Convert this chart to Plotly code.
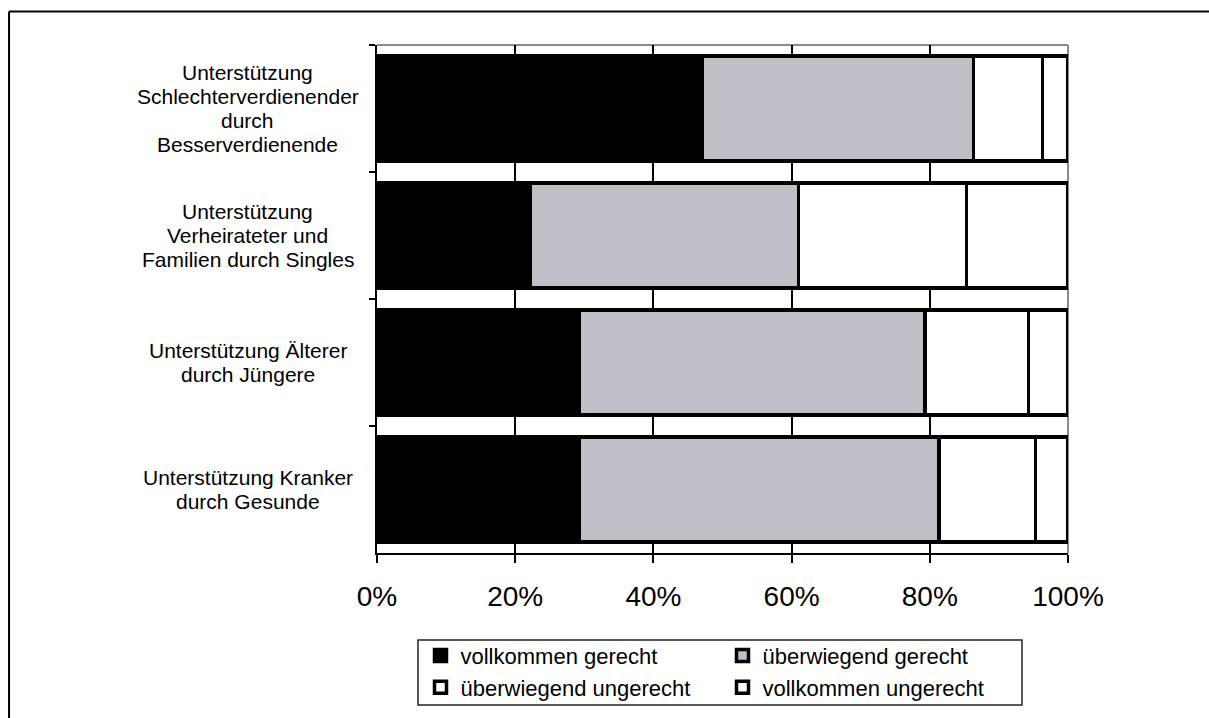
import plotly.graph_objects as go

categories = [
    "Unterstützung<br>Schlechterverdienender<br>durch<br>Besserverdienende",
    "Unterstützung<br>Verheirateter und<br>Familien durch Singles",
    "Unterstützung Älterer<br>durch Jüngere",
    "Unterstützung Kranker<br>durch Gesunde",
]
series_names = [
    "vollkommen gerecht",
    "überwiegend gerecht",
    "überwiegend ungerecht",
    "vollkommen ungerecht",
]
vollkommen_gerecht = [47.0, 22.2, 29.3, 29.3]
ueberwiegend_gerecht = [39.3, 38.8, 50.0, 52.0]
ueberwiegend_ungerecht = [10.0, 24.3, 15.0, 14.0]
vollkommen_ungerecht = [3.7, 14.7, 5.7, 4.7]
series_values = [vollkommen_gerecht, ueberwiegend_gerecht,
                 ueberwiegend_ungerecht, vollkommen_ungerecht]
series_colors = ["#000000", "#C0BFC7", "#FFFFFF", "#FFFFFF"]
tick_values = [0, 20, 40, 60, 80, 100]
tick_labels = ["0%", "20%", "40%", "60%", "80%", "100%"]

FONT = "Liberation Sans, Arial, sans-serif"

fig = go.Figure()
for name, vals, col in zip(series_names, series_values, series_colors):
    fig.add_trace(go.Bar(
        y=categories, x=vals, name=name, orientation="h",
        marker=dict(color=col, line=dict(color="#000000", width=3.5)),
    ))

# category labels, centred, one annotation per line
line_step = 24.3
for cat in categories:
    lines = cat.split("<br>")
    n = len(lines)
    for i, ln in enumerate(lines):
        fig.add_annotation(
            xref="paper", yref="y", x=-0.187, y=cat, text=ln,
            showarrow=False, xanchor="center", yanchor="middle",
            yshift=((n - 1) / 2 - i) * line_step,
            font=dict(family=FONT, size=21, color="#000000"),
        )

# outer frame (only top and left edges are inside the picture)
fig.add_shape(type="line", xref="paper", yref="paper",
              x0=-0.5325, x1=1.5, y0=1.066, y1=1.066,
              line=dict(color="#000000", width=2), layer="below")
fig.add_shape(type="line", xref="paper", yref="paper",
              x0=-0.5325, x1=-0.5325, y0=-0.6, y1=1.066,
              line=dict(color="#000000", width=2), layer="below")
# grey top / right border of plot area
fig.add_shape(type="line", xref="paper", yref="paper", x0=0, x1=1, y0=1, y1=1,
              line=dict(color="#8A8A8A", width=2), layer="below")
fig.add_shape(type="line", xref="paper", yref="paper", x0=1, x1=1, y0=0, y1=1,
              line=dict(color="#8A8A8A", width=2), layer="below")
# legend frame
fig.add_shape(type="rect", xref="paper", yref="paper",
              x0=0.0593, x1=0.9334, y0=-0.2992, y1=-0.1713,
              line=dict(color="#222222", width=1.5), fillcolor="rgba(0,0,0,0)",
              layer="above")

fig.update_layout(
    width=1209, height=718,
    margin=dict(l=377, r=141, t=45, b=165, autoexpand=False),
    paper_bgcolor="#FFFFFF", plot_bgcolor="#FFFFFF",
    barmode="stack", barnorm="percent", bargap=0.17,
    showlegend=True,
    legend=dict(
        orientation="h", x=0.5, xanchor="center", y=-0.161, yanchor="top",
        traceorder="normal", entrywidth=257, entrywidthmode="pixels",
        borderwidth=0, bgcolor="rgba(0,0,0,0)",
        font=dict(family=FONT, size=22, color="#000000"),
        itemclick=False, itemdoubleclick=False,
    ),
    font=dict(family=FONT, color="#000000"),
    xaxis=dict(
        range=[0, 100], tickvals=tick_values, ticktext=tick_labels,
        showgrid=True, gridcolor="#000000", gridwidth=1.5,
        zeroline=False, showline=True, linecolor="#000000", linewidth=2,
        ticks="outside", ticklen=8, tickwidth=1.5, tickcolor="#000000",
        tickfont=dict(family=FONT, size=28, color="#000000"),
        ticklabelstandoff=9, fixedrange=True, automargin=False,
    ),
    yaxis=dict(
        type="category", autorange="reversed", tickson="boundaries",
        showticklabels=False, showgrid=False, zeroline=False,
        showline=True, linecolor="#000000", linewidth=2,
        ticks="outside", ticklen=6, tickwidth=1.5, tickcolor="#000000",
        fixedrange=True, automargin=False,
    ),
)

fig.write_html("out.html")
